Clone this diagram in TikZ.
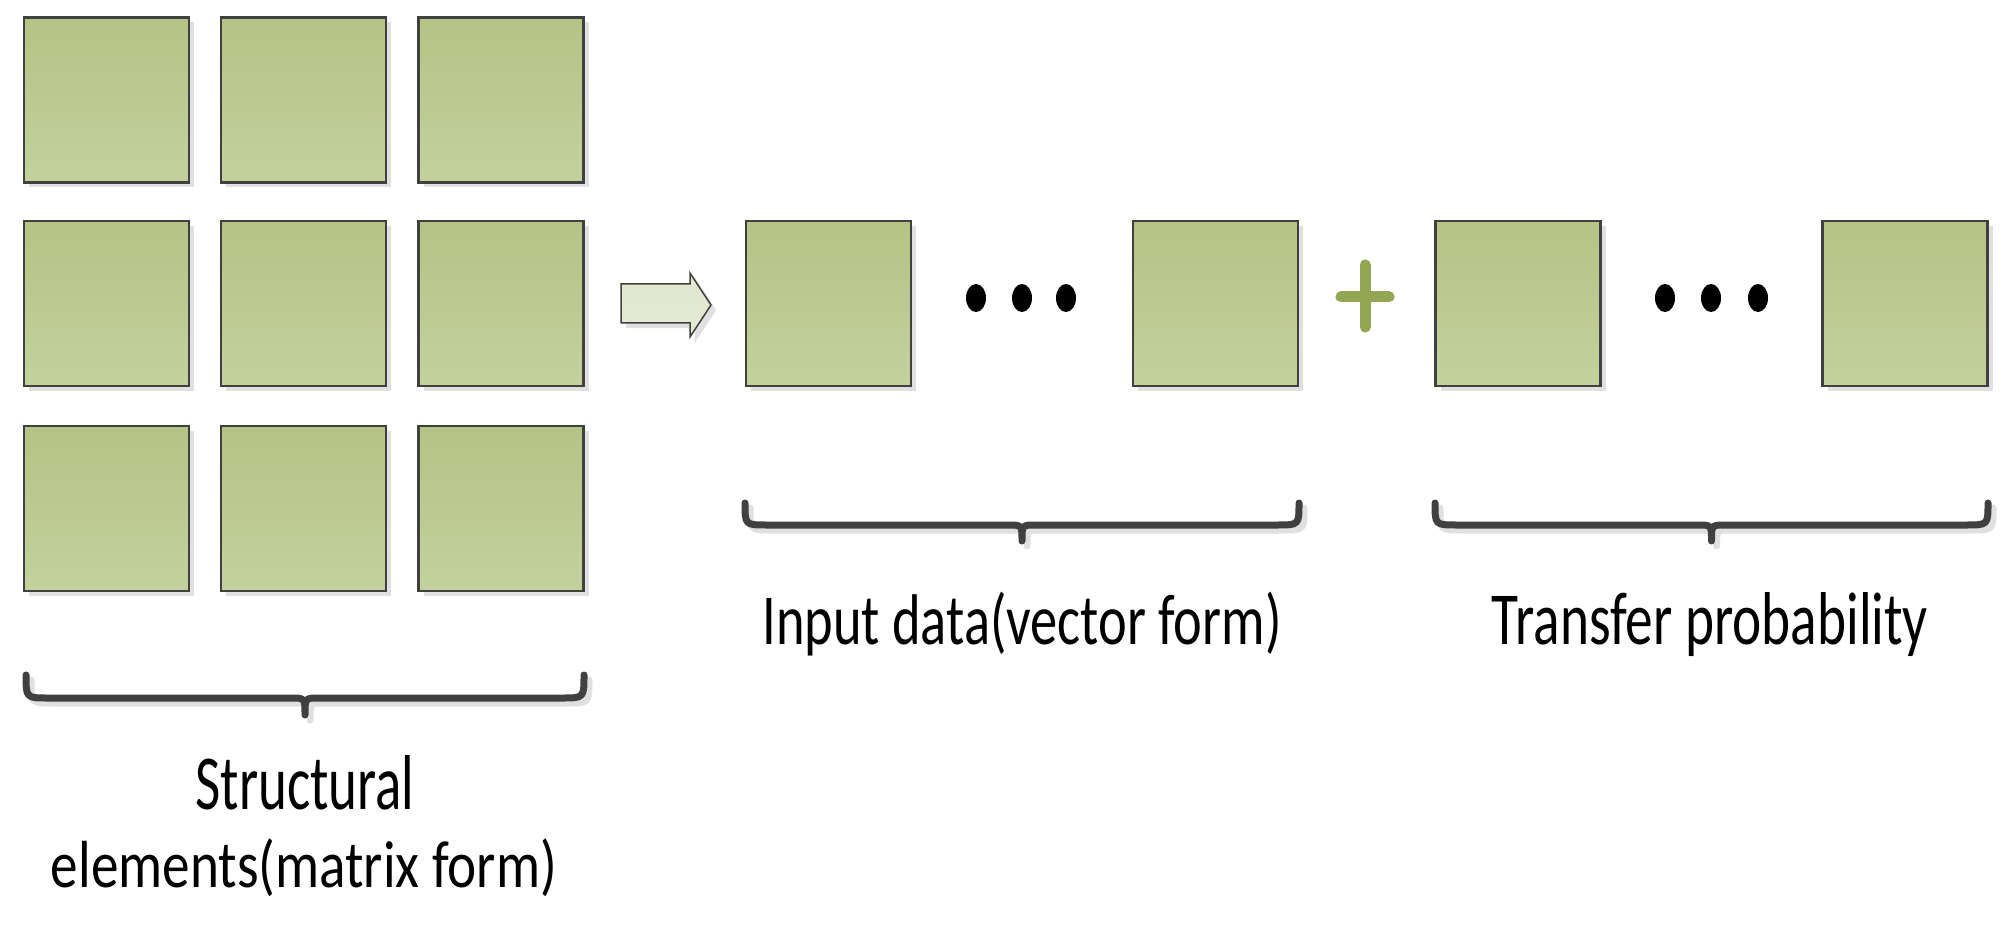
\documentclass[tikz,border=0pt]{standalone}
\usepackage{fontspec}
\setmainfont{Carlito}
\usepackage{graphicx}
\usetikzlibrary{shadows,shapes.geometric}
\definecolor{gtop}{HTML}{B5C386}
\definecolor{gbot}{HTML}{C3D19D}
\definecolor{edge}{HTML}{404040}
\definecolor{plusc}{HTML}{93A653}
\tikzset{
  cell/.style={draw=edge, line width=2.5pt, top color=gtop, bottom color=gbot, minimum width=165pt, minimum height=165pt, inner sep=0pt,
    drop shadow={shadow xshift=5pt, shadow yshift=-5pt, fill=black!12, opacity=1}},
  brace/.style={draw=edge, line width=7pt, line cap=round, line join=round},
  bshadow/.style={draw=black!12, line width=7pt, line cap=round},
  dot/.style={fill=black, ellipse, minimum width=20pt, minimum height=28pt, inner sep=0pt},
  lbl/.style={inner sep=0pt, text=black}
}
\newcommand{\mybrace}[6]{% x1 x2 y0 ym y1 style
  \pgfmathsetmacro{\xm}{(#1+#2)/2}
  \draw[#6] (#1,#3) .. controls (#1,#4) .. (#1+22,#4) -- (\xm-14,#4) .. controls (\xm,#4) .. (\xm,#5)
     (\xm,#5) .. controls (\xm,#4) .. (\xm+14,#4) -- (#2-22,#4) .. controls (#2,#4) .. (#2,#3);}
\begin{document}
\begin{tikzpicture}[x=1pt,y=-1pt]
\useasboundingbox (0,0) rectangle (2008,925);
% grid
\foreach \c/\x in {1/106.5,2/303.5,3/501}{
  \foreach \r/\y in {1/100,2/303.5,3/508.5}{
    \node[cell] (g\r\c) at (\x,\y) {};
  }}
% arrow
\draw[draw=black!12, fill=black!12] (626,289) -- (695,289) -- (695,278) -- (716,310) -- (695,342) -- (695,328) -- (626,328) -- cycle;
\draw[draw=edge, line width=1.5pt, top color=gtop!40, bottom color=gbot!45] (621,284) coordinate (arrS) -- (690,284) -- (690,273) -- (711,305) coordinate (arrE) -- (690,337) -- (690,323) -- (621,323) -- cycle;
% vector boxes
\node[cell] (v1) at (828.5,303.5) {};
\node[cell] (v2) at (1215.5,303.5) {};
\node[cell] (t1) at (1518,303.5) {};
\node[cell] (t2) at (1905,303.5) {};
\foreach \x/\n in {976/a,1022/b,1066/c} \node[dot] (d\n) at (\x,298) {};
\foreach \x/\n in {1665/a,1711/b,1758/c} \node[dot] (e\n) at (\x,298) {};
% plus
\draw[plusc, line width=11pt, line cap=round] (1341,297) -- (1389,297) (1365,265) -- (1365,327);
% braces
\begin{scope}[shift={(5,5)}]
\mybrace{26}{584}{675}{698}{715}{bshadow}
\mybrace{745}{1299}{503}{525}{541}{bshadow}
\mybrace{1435}{1988}{503}{525}{541}{bshadow}
\end{scope}
\mybrace{26}{584}{675}{698}{715}{brace}
\mybrace{745}{1299}{503}{525}{541}{brace}
\mybrace{1435}{1988}{503}{525}{541}{brace}
% labels
\node[lbl, anchor=south] (l1a) at (305,810) {\resizebox{219pt}{54pt}{Structural}};
\node[lbl, anchor=north] (l1b) at (304,839) {\resizebox*{506pt}{58pt}{elements(matrix form)}};
\node[lbl, anchor=north] (l2) at (1022,592) {\resizebox*{519pt}{64pt}{Input data(vector form)}};
\node[lbl, anchor=north] (l3) at (1710,592) {\resizebox*{436pt}{64pt}{Transfer probability}};
\end{tikzpicture}
\end{document}
